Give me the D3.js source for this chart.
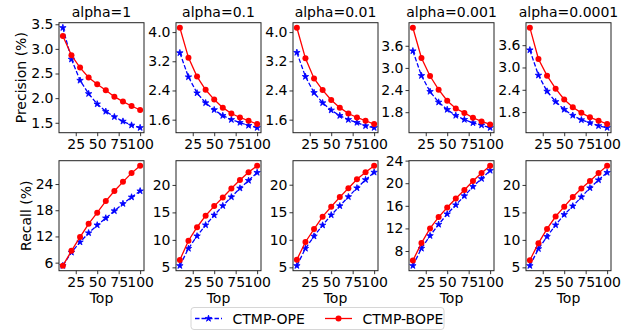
<!DOCTYPE html>
<html>
<head>
<meta charset="utf-8">
<script src="https://cdn.jsdelivr.net/npm/d3@7"></script>
<style>
	body { margin: 0; background: #fff; }
	text { font-family: "DejaVu Sans", sans-serif; fill: #000; }
</style>
</head>
<body>
<div id="chart"></div>
<script>
// ---------- DATA ----------
const topN = [10, 20, 30, 40, 50, 60, 70, 80, 90, 100];
const alphas = ["alpha=1", "alpha=0.1", "alpha=0.01", "alpha=0.001", "alpha=0.0001"];

// precision (%) per alpha
const precOPE = [
	[3.43, 2.79, 2.36, 2.09, 1.88, 1.73, 1.62, 1.53, 1.45, 1.40],
	[3.43, 2.77, 2.33, 2.06, 1.87, 1.71, 1.60, 1.52, 1.44, 1.38],
	[3.44, 2.78, 2.34, 2.06, 1.86, 1.71, 1.60, 1.52, 1.43, 1.38],
	[3.46, 2.79, 2.36, 2.07, 1.87, 1.71, 1.60, 1.51, 1.45, 1.38],
	[3.47, 2.79, 2.36, 2.08, 1.87, 1.71, 1.59, 1.51, 1.43, 1.38],
];
const precBOPE = [
	[3.26, 2.87, 2.62, 2.42, 2.28, 2.16, 2.03, 1.93, 1.84, 1.76],
	[4.12, 3.30, 2.78, 2.42, 2.15, 1.93, 1.77, 1.66, 1.57, 1.48],
	[4.12, 3.28, 2.73, 2.41, 2.14, 1.93, 1.77, 1.66, 1.57, 1.48],
	[4.09, 3.27, 2.78, 2.41, 2.11, 1.90, 1.78, 1.65, 1.55, 1.47],
	[4.07, 3.23, 2.78, 2.43, 2.14, 1.93, 1.78, 1.66, 1.57, 1.48],
];

// recall (%) per alpha
const recOPE = [
	[5.3, 8.35, 10.7, 12.8, 14.6, 16.2, 17.85, 19.5, 21.0, 22.4],
	[5.3, 8.43, 10.7, 12.7, 14.5, 16.2, 17.8, 19.4, 20.8, 22.25],
	[5.3, 8.43, 10.65, 12.65, 14.5, 16.15, 17.8, 19.4, 20.9, 22.25],
	[5.4, 8.46, 10.7, 12.7, 14.55, 16.15, 17.75, 19.4, 20.8, 22.25],
	[5.3, 8.38, 10.6, 12.7, 14.6, 16.15, 17.8, 19.45, 20.9, 22.25],
];
const recBOPE = [
	[5.3, 8.7, 11.85, 14.9, 17.45, 20.1, 22.4, 24.5, 26.5, 28.2],
	[6.35, 9.85, 12.3, 14.4, 16.15, 17.7, 19.35, 20.9, 22.3, 23.5],
	[6.4, 9.6, 11.95, 14.2, 16.0, 17.75, 19.35, 21.0, 22.25, 23.45],
	[6.3, 9.4, 12.0, 14.0, 15.7, 17.3, 18.8, 20.4, 21.8, 23.1],
	[6.3, 9.4, 12.0, 14.25, 16.05, 17.8, 19.35, 20.7, 22.15, 23.5],
];

// tick labels
const xTicks = [25, 50, 75, 100];
const precTicks = [
	[1.5, 2.0, 2.5, 3.0, 3.5],
	[1.6, 2.4, 3.2, 4.0],
	[1.6, 2.4, 3.2, 4.0],
	[1.8, 2.4, 3.0, 3.6],
	[1.8, 2.4, 3.0, 3.6],
];
const recTicks = [
	[6, 12, 18, 24],
	[5, 10, 15, 20],
	[5, 10, 15, 20],
	[8, 12, 16, 20, 24],
	[5, 10, 15, 20],
];

const seriesNames = ["CTMP-OPE", "CTMP-BOPE"];

// ---------- LAYOUT ----------
const W = 633, H = 333;
const colLeft = [59, 176, 293, 409, 526];
const panelW = 85, panelH = 110;
const rowTop = [22.7, 160.7];
const blue = "#0000ff", red = "#ff0000";

const svg = d3.select("#chart")
	.append("svg")
	.attr("width", W)
	.attr("height", H);

// matplotlib-ish 5% margins
function padded(lo, hi) {
	const m = (hi - lo) * 0.05;
	return [lo - m, hi + m];
}

const xScale = d3.scaleLinear()
	.domain(padded(d3.min(topN), d3.max(topN)))
	.range([0, panelW]);

const star = d3.symbol().type(d3.symbolStar).size(13);

function drawPanel(row, col, opeVals, bopeVals, ticks, fmt) {
	const g = svg.append("g")
		.attr("transform", `translate(${colLeft[col]},${rowTop[row]})`);

	const all = opeVals.concat(bopeVals);
	const yScale = d3.scaleLinear()
		.domain(padded(d3.min(all), d3.max(all)))
		.range([panelH, 0]);

	g.append("g")
		.attr("transform", `translate(0,${panelH})`)
		.call(d3.axisBottom(xScale).tickValues(xTicks).tickSize(3.5).tickPadding(3))
		.call((a) => a.select(".domain").remove());

	g.append("g")
		.call(d3.axisLeft(yScale).tickValues(ticks).tickFormat(fmt).tickSize(3.5).tickPadding(2))
		.call((a) => a.select(".domain").remove());

	g.selectAll(".tick text")
		.attr("font-size", 14)
		.attr("font-family", "DejaVu Sans");
	g.selectAll(".tick line").attr("stroke", "#000").attr("stroke-width", 0.8);

	const line = d3.line()
		.x((d, i) => xScale(topN[i]))
		.y((d) => yScale(d));

	// CTMP-OPE
	g.append("path")
		.datum(opeVals)
		.attr("fill", "none")
		.attr("stroke", blue)
		.attr("stroke-width", 1.3)
		.attr("stroke-dasharray", "4.5,2")
		.attr("d", line);

	g.selectAll(".ope")
		.data(opeVals)
		.enter()
		.append("path")
		.attr("d", star)
		.attr("fill", blue)
		.attr("stroke", blue)
		.attr("stroke-width", 0.8)
		.attr("transform", (d, i) => `translate(${xScale(topN[i])},${yScale(d)})`);

	// CTMP-BOPE
	g.append("path")
		.datum(bopeVals)
		.attr("fill", "none")
		.attr("stroke", red)
		.attr("stroke-width", 1.3)
		.attr("d", line);

	g.selectAll(".bope")
		.data(bopeVals)
		.enter()
		.append("circle")
		.attr("cx", (d, i) => xScale(topN[i]))
		.attr("cy", (d) => yScale(d))
		.attr("r", 3)
		.attr("fill", red);

	g.append("rect")
		.attr("width", panelW)
		.attr("height", panelH)
		.attr("fill", "none")
		.attr("stroke", "#222")
		.attr("stroke-width", 1);

	if (row === 0) {
		g.append("text")
			.attr("x", panelW / 2)
			.attr("y", -6)
			.attr("text-anchor", "middle")
			.attr("font-size", 14)
			.text(alphas[col]);
	} else {
		g.append("text")
			.attr("x", panelW / 2)
			.attr("y", panelH + 32.5)
			.attr("text-anchor", "middle")
			.attr("font-size", 14)
			.text("Top");
	}
}

alphas.forEach((a, i) => {
	drawPanel(0, i, precOPE[i], precBOPE[i], precTicks[i], d3.format(".1f"));
	drawPanel(1, i, recOPE[i], recBOPE[i], recTicks[i], d3.format("d"));
});

// y labels
svg.append("text")
	.attr("transform", `translate(26,${rowTop[0] + panelH / 2}) rotate(-90)`)
	.attr("text-anchor", "middle")
	.attr("font-size", 14)
	.text("Precision (%)");

svg.append("text")
	.attr("transform", `translate(31,${rowTop[1] + panelH / 2}) rotate(-90)`)
	.attr("text-anchor", "middle")
	.attr("font-size", 14)
	.text("Recall (%)");

// ---------- LEGEND ----------
const legend = svg.append("g").attr("transform", "translate(191,307.5)");

legend.append("rect")
	.attr("width", 253)
	.attr("height", 22)
	.attr("rx", 3)
	.attr("fill", "#fff")
	.attr("stroke", "#d6d6d6")
	.attr("stroke-width", 1);

const legendX = [4, 134];
seriesNames.forEach((name, i) => {
	const lg = legend.append("g").attr("transform", `translate(${legendX[i]},11)`);
	lg.append("line")
		.attr("x1", 0)
		.attr("x2", 27)
		.attr("stroke", i === 0 ? blue : red)
		.attr("stroke-width", 1.3)
		.attr("stroke-dasharray", i === 0 ? "4.5,2" : null);
	if (i === 0) {
		lg.append("path").attr("d", star).attr("fill", blue)
			.attr("stroke", blue).attr("stroke-width", 0.8)
			.attr("transform", "translate(13.5,0)");
	} else {
		lg.append("circle").attr("cx", 13.5).attr("r", 3).attr("fill", red);
	}
	lg.append("text")
		.attr("x", 37.5)
		.attr("y", 5)
		.attr("font-size", 14)
		.text(name);
});
</script>
</body>
</html>
